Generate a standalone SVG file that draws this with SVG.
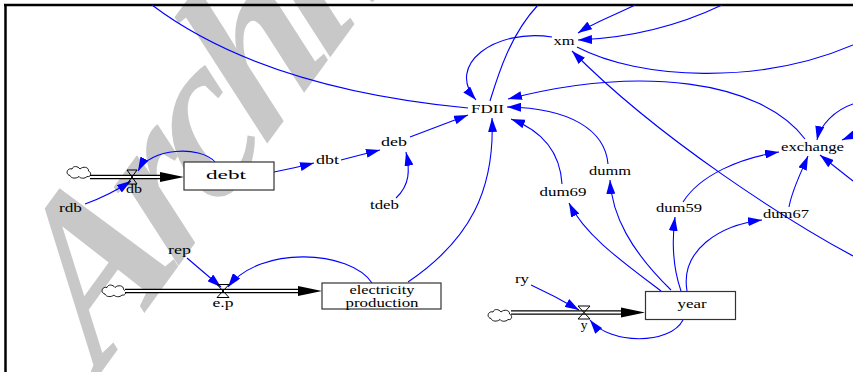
<svg xmlns="http://www.w3.org/2000/svg" width="853" height="372" viewBox="0 0 853 372">
<style>
.lnk{fill:none;stroke:#0000ff;stroke-width:1.1}
.arr{marker-end:url(#ah)}
.lbl{font-size:13.5px;fill:#000;text-anchor:middle}
.box{fill:#fff;stroke:#333;stroke-width:1.2}
.po{fill:none;stroke:#000;stroke-width:4.6}
.pi{fill:none;stroke:#fff;stroke-width:2.2}
.valve{fill:none;stroke:#000;stroke-width:1}
</style>
<defs>
<marker id="ah" markerUnits="userSpaceOnUse" markerWidth="14" markerHeight="9" refX="14" refY="4.5" orient="auto">
<path d="M0,0 L14,4.5 L0,9 Z" fill="#0000ff"/>
</marker>
<path id="cloud" d="M-9,3 C-14,2 -12,-5 -7,-3.5 C-6,-7 -1,-6.5 1,-3.5 C4,-6.5 10,-5.5 9.5,-1.5 C13,0 12,5 8,4 C6,6.5 1,6 0,4 C-3,6.5 -8,6 -9,3 Z" fill="#fff" stroke="#000" stroke-width="0.9"/>
</defs>
<rect width="853" height="372" fill="#fff"/>
<text font-family="'Liberation Serif', 'Times New Roman', serif" font-size="215" font-weight="bold" font-style="italic" letter-spacing="-14" fill="#c8c8c8" transform="translate(100,374) rotate(-54) skewX(-12)">Archive</text>
<g id="frame" stroke="#000" stroke-width="2.5">
<line x1="4" y1="5" x2="853" y2="5"/>
<line x1="5.5" y1="4" x2="5.5" y2="372"/>
</g>
<g id="connectors">
<path class="lnk" d="M468,108 Q262,88 152,5"/>
<path class="lnk" d="M490,101 C498,75 510,35 538,5"/>
<path class="lnk arr" d="M552,37 C495,28 445,65 476,100"/>
<path class="lnk arr" d="M635,5 C615,15 595,22 578,33"/>
<path class="lnk arr" d="M722,5 C680,25 630,38 578,40"/>
<path class="lnk" d="M577,47 C640,80 760,85 853,45"/>
<path class="lnk arr" d="M805,139 C760,80 640,65 508,99"/>
<path class="lnk arr" d="M853,256 C790,222 660,140 572,51"/>
<path class="lnk arr" d="M410,137 L468,115"/>
<path class="lnk arr" d="M341,160 Q360,155 380,150"/>
<path class="lnk arr" d="M274,172 Q295,168 314,163"/>
<path class="lnk arr" d="M396,198 C410,185 410,170 406,152"/>
<path class="lnk arr" d="M215,162 C200,145 150,148 138,171"/>
<path class="lnk arr" d="M85,204 Q110,195 131,181"/>
<path class="lnk arr" d="M187,258 L221,287"/>
<path class="lnk arr" d="M372,283 C350,250 260,245 228,287"/>
<path class="lnk arr" d="M408,282 C470,240 495,190 492,118"/>
<path class="lnk arr" d="M562,184 C560,150 540,130 511,119"/>
<path class="lnk arr" d="M608,164 C605,130 570,108 507,107"/>
<path class="lnk arr" d="M661,291 C620,260 585,235 569,203"/>
<path class="lnk arr" d="M671,290 C630,250 612,215 610,180"/>
<path class="lnk arr" d="M681,291 C672,265 672,240 675,217"/>
<path class="lnk arr" d="M687,291 C680,250 720,225 762,220"/>
<path class="lnk arr" d="M683,320 C670,345 610,345 590,320"/>
<path class="lnk arr" d="M531,285 Q555,296 579,310"/>
<path class="lnk arr" d="M683,202 C700,175 740,158 779,152"/>
<path class="lnk arr" d="M789,207 C792,190 800,175 808,156"/>
<path class="lnk arr" d="M853,181 L820,155"/>
<path class="lnk arr" d="M853,104 C835,110 820,125 817,140"/>
<path class="lnk arr" d="M856,134 L842,140"/>
</g>
<g id="flow-db">
<use href="#cloud" x="79" y="172.5"/>
<path class="po" d="M90,177 L162,177"/>
<path class="pi" d="M90,177 L163,177"/>
<path d="M160,172 L184,177 L160,182 Z" fill="#000"/>
<path class="valve" d="M127,170 L137,170 L127,184 L137,184 Z"/>
</g>
<g id="flow-ep">
<use href="#cloud" x="114" y="291"/>
<path class="po" d="M125,291 L300,291"/>
<path class="pi" d="M125,291 L301,291"/>
<path d="M298,286 L322,291 L298,296 Z" fill="#000"/>
<path class="valve" d="M217,284.5 L229,284.5 L217,297.5 L229,297.5 Z"/>
</g>
<g id="flow-y">
<use href="#cloud" x="500" y="315.5"/>
<path class="po" d="M511,312.5 L623,312.5"/>
<path class="pi" d="M511,312.5 L624,312.5"/>
<path d="M621,307.5 L645,312.5 L621,317.5 Z" fill="#000"/>
<path class="valve" d="M578,306 L590,306 L578,319 L590,319 Z"/>
</g>
<g font-family="'Liberation Serif', 'Times New Roman', serif">
<g id="debt"><rect class="box" x="184" y="162" width="90" height="28"/><text class="lbl" x="226" y="179" textLength="40" lengthAdjust="spacingAndGlyphs">debt</text></g>
<g id="electricity-production"><rect class="box" x="322" y="283" width="119" height="26"/><text class="lbl" x="382" y="293.5" style="font-size:12px" textLength="65" lengthAdjust="spacingAndGlyphs">electricity</text><text class="lbl" x="382" y="306.5" style="font-size:12px" textLength="73" lengthAdjust="spacingAndGlyphs">production</text></g>
<g id="year"><rect class="box" x="645.5" y="291.5" width="90" height="28"/><text class="lbl" x="692" y="308" textLength="29" lengthAdjust="spacingAndGlyphs">year</text></g>
<g id="FDII"><text class="lbl" x="487.5" y="113" textLength="33" lengthAdjust="spacingAndGlyphs">FDII</text></g>
<g id="xm"><text class="lbl" x="564" y="45" textLength="21" lengthAdjust="spacingAndGlyphs">xm</text></g>
<g id="deb"><text class="lbl" x="394" y="146" textLength="26" lengthAdjust="spacingAndGlyphs">deb</text></g>
<g id="dbt"><text class="lbl" x="327.5" y="164" textLength="23" lengthAdjust="spacingAndGlyphs">dbt</text></g>
<g id="tdeb"><text class="lbl" x="384.5" y="209" textLength="29" lengthAdjust="spacingAndGlyphs">tdeb</text></g>
<g id="rdb"><text class="lbl" x="70.5" y="212" textLength="23" lengthAdjust="spacingAndGlyphs">rdb</text></g>
<g id="db"><text class="lbl" x="134" y="193" textLength="16" lengthAdjust="spacingAndGlyphs">db</text></g>
<g id="rep"><text class="lbl" x="179.5" y="254" textLength="23" lengthAdjust="spacingAndGlyphs">rep</text></g>
<g id="e.p"><text class="lbl" x="223" y="307" textLength="21" lengthAdjust="spacingAndGlyphs">e.p</text></g>
<g id="ry"><text class="lbl" x="522" y="283" textLength="14" lengthAdjust="spacingAndGlyphs">ry</text></g>
<g id="y"><text class="lbl" x="584" y="329">y</text></g>
<g id="dum69"><text class="lbl" x="563" y="196" textLength="47" lengthAdjust="spacingAndGlyphs">dum69</text></g>
<g id="dumm"><text class="lbl" x="610" y="175" textLength="42" lengthAdjust="spacingAndGlyphs">dumm</text></g>
<g id="dum59"><text class="lbl" x="679" y="212" textLength="46" lengthAdjust="spacingAndGlyphs">dum59</text></g>
<g id="dum67"><text class="lbl" x="786" y="218" textLength="46" lengthAdjust="spacingAndGlyphs">dum67</text></g>
<g id="exchange"><text class="lbl" x="812.5" y="151" textLength="63" lengthAdjust="spacingAndGlyphs">exchange</text></g>
</g>
</svg>
